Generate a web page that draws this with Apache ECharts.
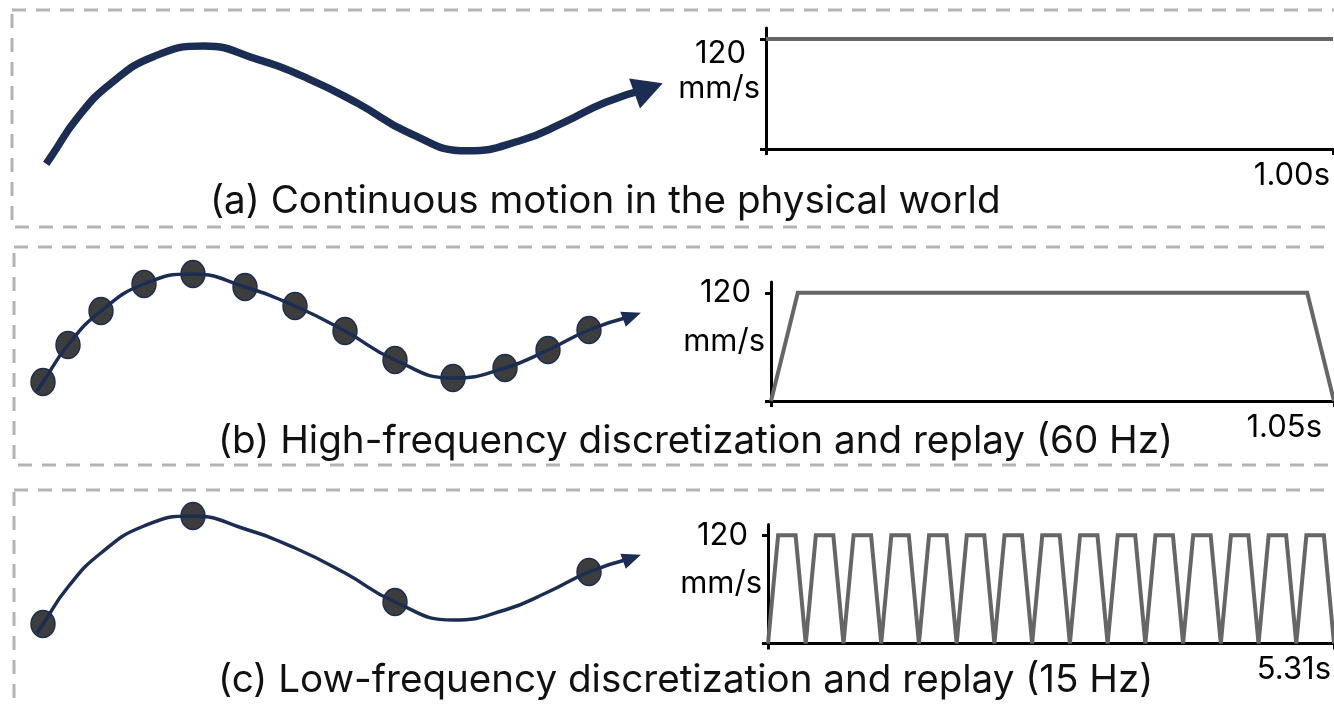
<!DOCTYPE html>
<html>
<head>
<meta charset="utf-8">
<script src="https://cdn.jsdelivr.net/npm/echarts@6/dist/echarts.min.js"></script>
<style>
  html, body { margin: 0; padding: 0; background: #fff; }
  #main { width: 1334px; height: 705px; }
</style>
</head>
<body>
<div id="main"></div>
<script>
// 轨迹（相对位置），60 Hz 采样点
var sampleX = [0, 25, 58, 101, 150, 202, 252, 302, 352, 410, 462, 505, 546];
var sampleY = [0, 37, 71, 98, 108, 95, 76, 51, 22, 4, 14, 32, 52];
// 15 Hz 采样点
var lowX = [0, 150, 352, 546];
var lowY = [0, 108, 22, 52];
// 连续轨迹
var pathX = [-6, 0, 25, 58, 101, 150, 202, 252, 302, 352, 410, 462, 505, 546, 589];
var pathY = [-9, 0, 37, 71, 98, 108, 95, 76, 51, 22, 4, 14, 32, 52, 66];
var arrowEnd = [589, 66];

// 速度曲线 (s, mm/s)
var timeA = [0, 1.00];
var velA = [120, 120];
var timeB = [0, 0.05, 1.00, 1.05];
var velB = [0, 120, 120, 0];
var timeC = [0, 0.095, 0.259, 0.354,
  0.449, 0.613, 0.708, 0.803, 0.967, 1.062, 1.157, 1.321, 1.416,
  1.511, 1.675, 1.770, 1.865, 2.029, 2.124, 2.219, 2.383, 2.478,
  2.573, 2.737, 2.832, 2.927, 3.091, 3.186, 3.281, 3.445, 3.540,
  3.635, 3.799, 3.894, 3.989, 4.153, 4.248, 4.343, 4.507, 4.602,
  4.697, 4.861, 4.956, 5.051, 5.215, 5.310];
var velC = [0, 120, 120, 0,
  120, 120, 0, 120, 120, 0, 120, 120, 0,
  120, 120, 0, 120, 120, 0, 120, 120, 0,
  120, 120, 0, 120, 120, 0, 120, 120, 0,
  120, 120, 0, 120, 120, 0, 120, 120, 0,
  120, 120, 0, 120, 120, 0];

var durations = [1.00, 1.05, 5.31];
var durationLabels = ['1.00s', '1.05s', '5.31s'];
var speedTick = 120;
var speedUnit = 'mm/s';
var captions = [
  '(a) Continuous motion in the physical world',
  '(b) High-frequency discretization and replay (60 Hz)',
  '(c) Low-frequency discretization and replay (15 Hz)'
];

function zip(xs, ys) {
  return xs.map(function (x, i) { return [x, ys[i]]; });
}

var navy = '#1b2d52';
var font = 'Inter, "Noto Sans", sans-serif';

var chart = echarts.init(document.getElementById('main'));

var grids = [
  { left: 32, top: 34, width: 648, height: 141 },
  { left: 23, top: 262, width: 640, height: 140 },
  { left: 23, top: 504, width: 640, height: 140 },
  { left: 766, top: 28, width: 567, height: 121 },
  { left: 771, top: 282, width: 571, height: 119 },
  { left: 768, top: 524.5, width: 567, height: 119 }
];

// 每个速度图的标签微调
var tickLabelPad = [[0, 0, 0, 0], [9, 0, 0, 0], [9, 0, 0, 0]];
var tickLabelAlign = ['top', 'middle', 'middle'];
var unitPad = [[13, 0, 0, 0], [0, 0, 7, 0], [0, 0, 7, 0]];

var xAxes = [], yAxes = [];
for (var i = 0; i < 3; i++) {
  xAxes.push({ gridIndex: i, type: 'value', min: -20, max: 620, show: false });
  yAxes.push({ gridIndex: i, type: 'value', min: -20, max: 120, show: false });
}
var axisLine = { lineStyle: { color: '#000', width: 3 } };
for (var j = 0; j < 3; j++) {
  var dur = durations[j];
  xAxes.push({
    gridIndex: 3 + j, type: 'value', min: 0, max: dur,
    axisLine: axisLine,
    axisTick: { customValues: [0, dur], length: 6, lineStyle: { color: '#000', width: 3 } },
    axisLabel: {
      customValues: [dur], margin: 11, align: 'right', color: '#000',
      fontSize: 31, fontFamily: font,
      padding: j === 1 ? [0, 12, 0, 0] : [0, 3, 0, 0],
      formatter: (function (t) { return function () { return t; }; })(durationLabels[j])
    },
    splitLine: { show: false }
  });
  yAxes.push({
    gridIndex: 3 + j, type: 'value', min: 0, max: 132,
    axisLine: axisLine,
    axisTick: { customValues: [0, speedTick], length: 6, lineStyle: { color: '#000', width: 3 } },
    axisLabel: {
      customValues: [speedTick], margin: 20, color: '#000', verticalAlign: tickLabelAlign[j],
      padding: tickLabelPad[j], fontSize: 31, lineHeight: 30, fontFamily: font
    },
    name: speedUnit, nameLocation: 'middle', nameRotate: 0, nameGap: 6, nameMoveOverlap: false,
    nameTextStyle: {
      align: 'right', verticalAlign: 'middle', color: '#000', fontSize: 31,
      fontFamily: font, padding: unitPad[j]
    },
    splitLine: { show: false }
  });
}

var series = [];
var lineWidths = [7.5, 3.5, 3.5];
var arrowSizes = [[30, 32], [19, 16], [19, 16]];
for (var k = 0; k < 3; k++) {
  series.push({
    type: 'line', xAxisIndex: k, yAxisIndex: k, data: zip(pathX, pathY),
    smooth: 0.5, showSymbol: false, symbol: 'none', silent: true, z: 3,
    lineStyle: { color: navy, width: lineWidths[k], cap: 'butt' }
  });
  series.push({
    type: 'scatter', xAxisIndex: k, yAxisIndex: k, data: [arrowEnd],
    symbol: 'path://M0,0L20,8L0,16Z', symbolSize: arrowSizes[k], symbolRotate: 20,
    itemStyle: { color: navy, opacity: 1 }, silent: true, z: 4
  });
}
var dotStyle = { color: '#3d3d3d', borderColor: navy, borderWidth: 1.5, opacity: 1 };
series.push({
  type: 'scatter', xAxisIndex: 1, yAxisIndex: 1, data: zip(sampleX, sampleY),
  symbol: 'circle', symbolSize: [24, 27], silent: true, z: 2, itemStyle: dotStyle
});
series.push({
  type: 'scatter', xAxisIndex: 2, yAxisIndex: 2, data: zip(lowX, lowY),
  symbol: 'circle', symbolSize: [24, 27], silent: true, z: 2, itemStyle: dotStyle
});
var velData = [zip(timeA, velA), zip(timeB, velB), zip(timeC, velC)];
for (var m = 0; m < 3; m++) {
  series.push({
    type: 'line', xAxisIndex: 3 + m, yAxisIndex: 3 + m, data: velData[m],
    showSymbol: false, symbol: 'none', silent: true, z: 3,
    lineStyle: { color: '#666', width: 4, join: 'miter' }
  });
}

var boxStyle = { fill: 'none', stroke: '#b3b3b3', lineWidth: 3, lineDash: [14, 10] };
var captionPos = [[210, 178], [218, 418], [218, 657]];

var option = {
  animation: false,
  title: captions.map(function (c, i) {
    return {
      text: c, left: captionPos[i][0], top: captionPos[i][1], padding: 0,
      textStyle: { fontSize: 38.6, fontWeight: 'normal', color: '#111', fontFamily: font, lineHeight: 46 }
    };
  }),
  grid: grids,
  xAxis: xAxes,
  yAxis: yAxes,
  series: series,
  graphic: [
    { type: 'rect', silent: true, shape: { x: 12, y: 10, width: 1400, height: 217 }, style: boxStyle },
    { type: 'rect', silent: true, shape: { x: 14, y: 247, width: 1400, height: 218 }, style: boxStyle },
    { type: 'rect', silent: true, shape: { x: 14, y: 490, width: 1400, height: 300 }, style: boxStyle }
  ]
};

chart.setOption(option);
</script>
</body>
</html>
